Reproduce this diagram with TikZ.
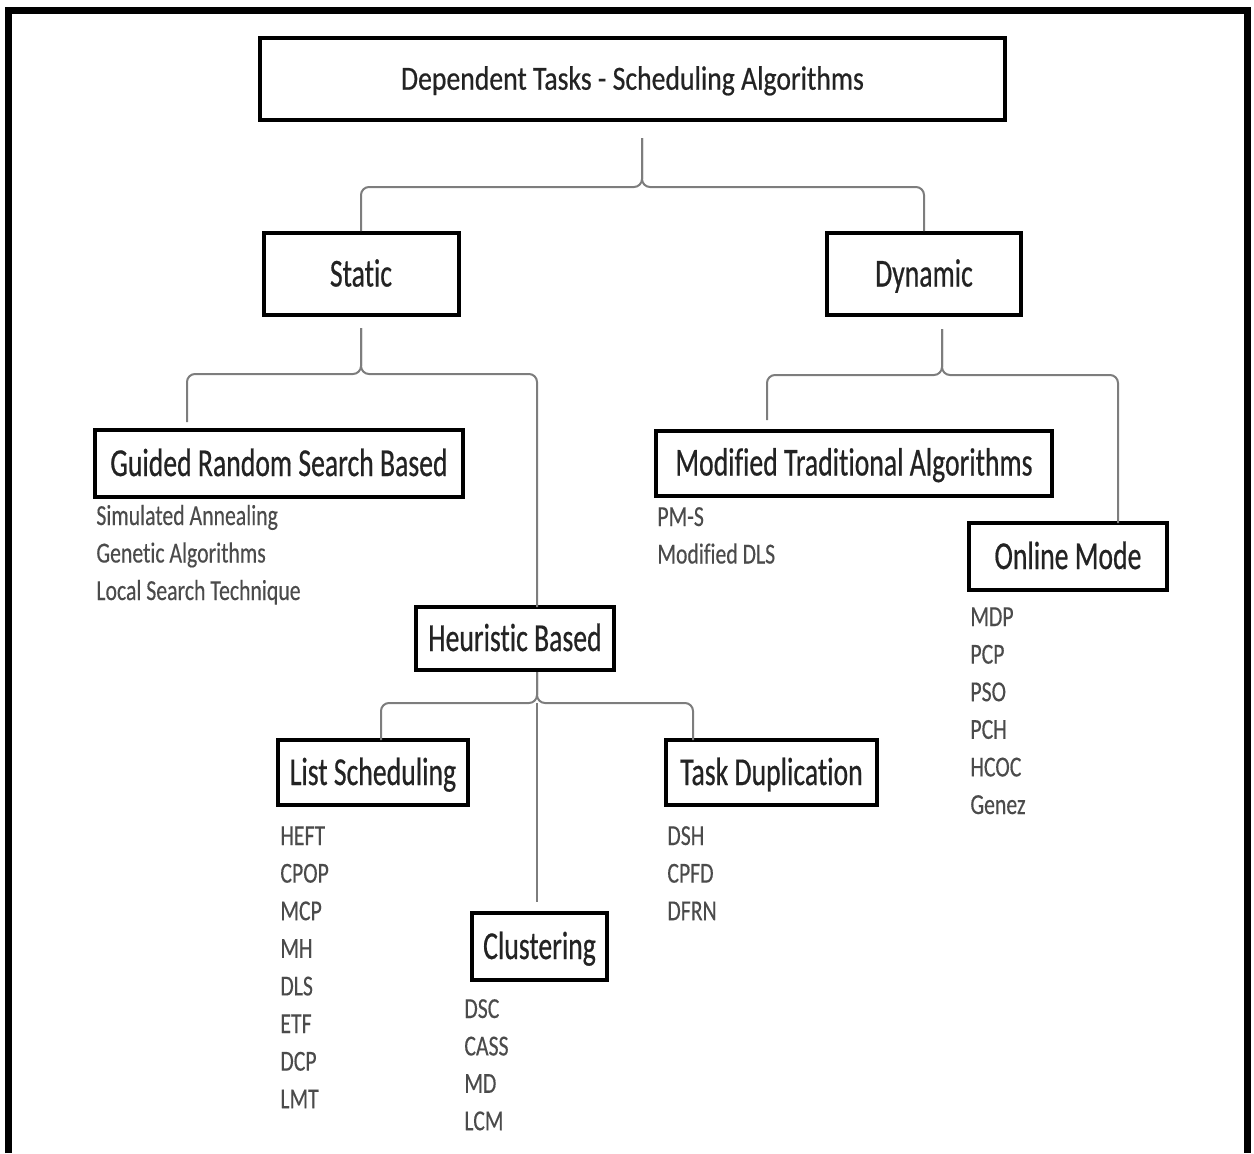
\documentclass[tikz,border=0pt]{standalone}
\usepackage{fontspec}
\setmainfont{Carlito}
\newfontfamily\titlefont{Carlito}[FakeStretch=0.82,FakeBold=0.5,Ligatures=NoCommon]
\newfontfamily\boxfont{Carlito}[FakeStretch=0.70,FakeBold=0.5,Ligatures=NoCommon]
\newfontfamily\itemfont{Carlito}[FakeStretch=0.75,FakeBold=0.3,Ligatures=NoCommon]
\usepackage{tikz}
\usetikzlibrary{positioning,calc}
\definecolor{boxtext}{RGB}{35,35,35}
\definecolor{itemtext}{RGB}{75,75,75}
\definecolor{linkgray}{RGB}{125,125,125}
\tikzset{
  catbox/.style={draw=black,line width=2pt,fill=white,inner sep=0pt,text=boxtext,
    font=\boxfont\fontsize{19.8}{22}\selectfont,text height=12.5pt,text depth=0pt},
  titlebox/.style={catbox,font=\titlefont\fontsize{16.9}{20}\selectfont,text height=10.7pt},
  boxsize/.style 2 args={minimum width=#1*0.5pt,minimum height=#2*0.5pt},
  item/.style={anchor=base west,inner sep=0pt,text=itemtext,
    font=\itemfont\fontsize{14.5}{17}\selectfont},
  link/.style={draw=linkgray,line width=1pt,rounded corners=4pt},
  frame/.style={line width=3.5pt,draw=black}
}

\begin{document}
\begin{tikzpicture}[x=0.5pt,y=-0.5pt]
\useasboundingbox (0,0) rectangle (1254,1153);
\draw[frame] (8.5,1153) -- (8.5,10.5) -- (1247.5,10.5) -- (1247.5,1153);

% category boxes
\node[titlebox,boxsize={745}{82}] (title) at (632.5,79) {Dependent Tasks - Scheduling Algorithms};
\node[catbox,boxsize={195}{82}] (static) at (361,274) {Static};
\node[catbox,boxsize={194}{82}] (dynamic) at (924,274) {Dynamic};
\node[catbox,boxsize={368}{67}] (guided) at (279,463.5) {Guided Random Search Based};
\node[catbox,boxsize={396}{65}] (modified) at (854,463) {Modified Traditional Algorithms};
\node[catbox,boxsize={198}{67}] (online) at (1068,556.5) {Online Mode};
\node[catbox,boxsize={198}{63}] (heuristic) at (515,638.5) {Heuristic Based};
\node[catbox,boxsize={190}{65}] (listsched) at (373,772.5) {List Scheduling};
\node[catbox,boxsize={211}{65}] (taskdup) at (771.5,772.5) {Task Duplication};
\node[catbox,boxsize={135}{67}] (cluster) at (539.5,946.5) {Clustering};

% brace ends and tips
\coordinate (tipT) at (642,138);
\coordinate (tipS) at (361,328);
\coordinate (tipD) at (942,329);
\coordinate (tipH) at (537,672);
\coordinate (guidedEnd) at (187,422);
\coordinate (heurEnd) at (537,607);
\coordinate (modEnd) at (767,420);
\coordinate (onlineEnd) at (1118,523);
\coordinate (listEnd) at (381,740);
\coordinate (dupEnd) at (693,740);
\coordinate (clusterEnd) at (537,902);

\draw[link] (static.north) |- (642,187) -- (tipT);
\draw[link] (dynamic.north) |- (642,187) -- (tipT);

\draw[link] (guidedEnd) |- (361,374) -- (tipS);
\draw[link] (heurEnd) |- (361,374) -- (tipS);

\draw[link] (modEnd) |- (942,375) -- (tipD);
\draw[link] (onlineEnd) |- (942,375) -- (tipD);

\draw[link] (listEnd) |- (537,703) -- (tipH);
\draw[link] (dupEnd) |- (537,703) -- (tipH);
\draw[link] (537,703) -- (clusterEnd);

% algorithm lists
\foreach \t [count=\i from 0] in {Simulated Annealing,Genetic Algorithms,Local Search Technique}
  \node[item] (gr\i) at (96,525+37.5*\i) {\t};
\foreach \t [count=\i from 0] in {PM-S,Modified DLS}
  \node[item] (mt\i) at (657,526+37.5*\i) {\t};
\foreach \t [count=\i from 0] in {MDP,PCP,PSO,PCH,HCOC,Genez}
  \node[item] (om\i) at (970,626+37.6*\i) {\t};
\foreach \t [count=\i from 0] in {HEFT,CPOP,MCP,MH,DLS,ETF,DCP,LMT}
  \node[item] (ls\i) at (280,845+37.6*\i) {\t};
\foreach \t [count=\i from 0] in {DSH,CPFD,DFRN}
  \node[item] (td\i) at (667,845+37.6*\i) {\t};
\foreach \t [count=\i from 0] in {DSC,CASS,MD,LCM}
  \node[item] (cl\i) at (464,1018+37.4*\i) {\t};
\end{tikzpicture}
\end{document}
